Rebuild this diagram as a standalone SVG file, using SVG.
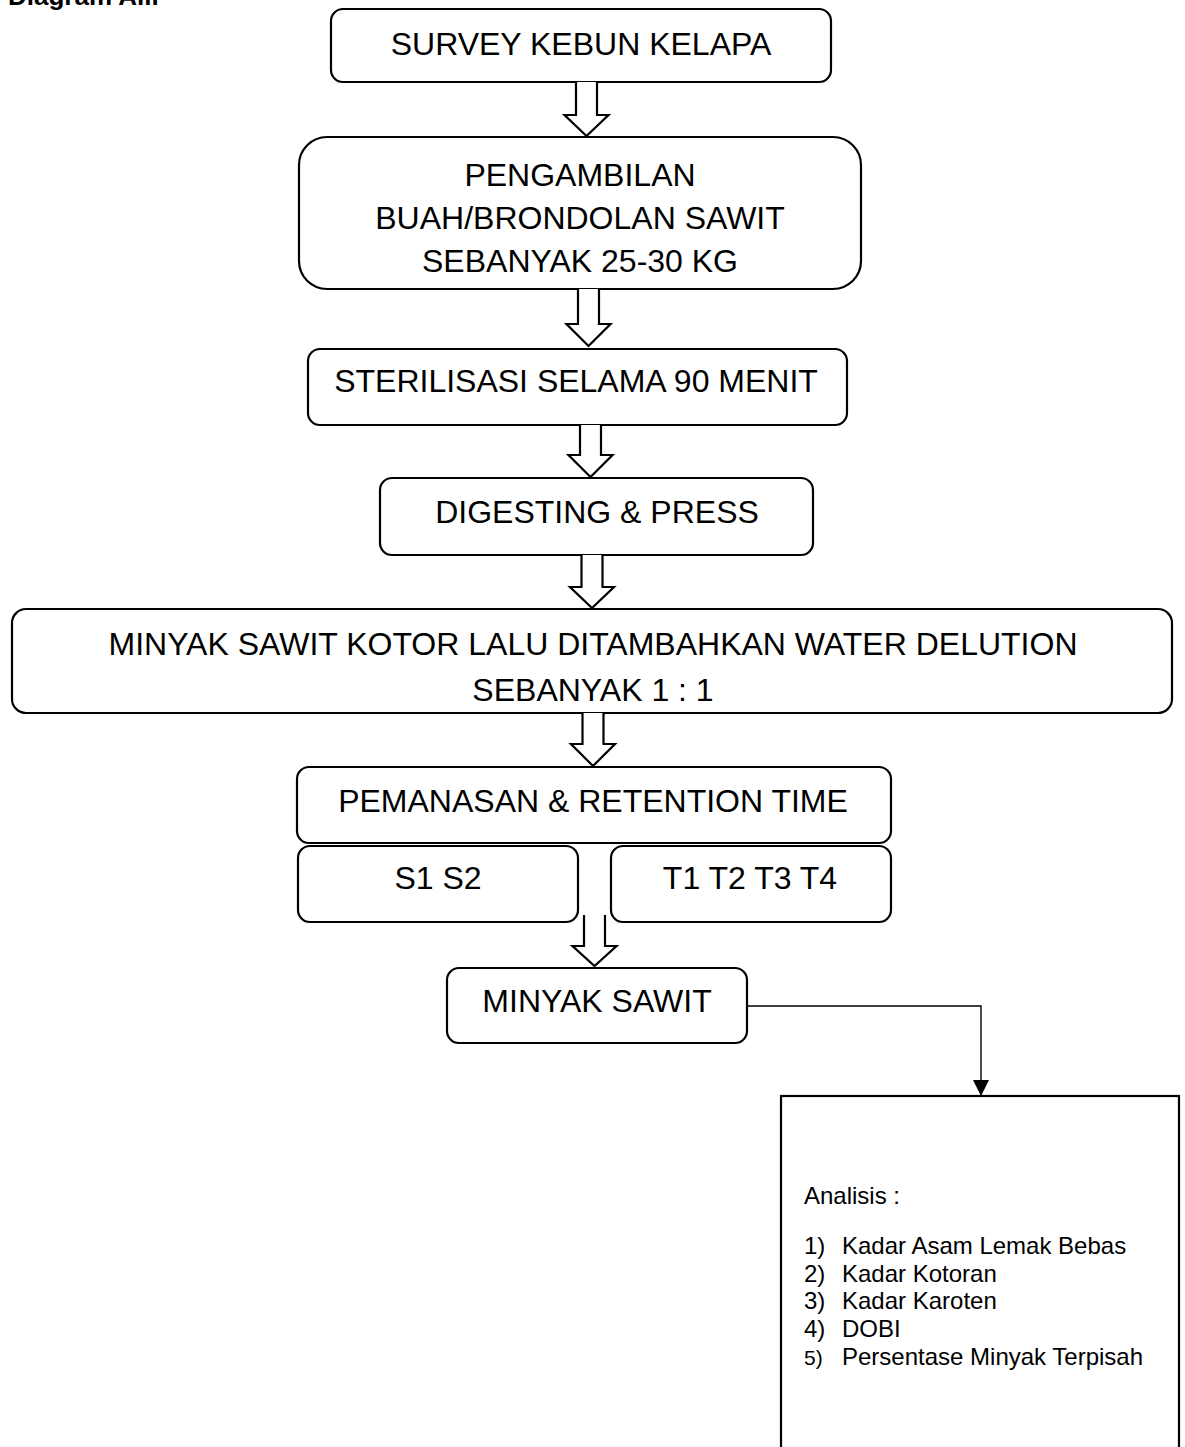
<svg xmlns="http://www.w3.org/2000/svg" width="1185" height="1447" viewBox="0 0 1185 1447">
<style>
.box{fill:#fff;stroke:#000;stroke-width:2.2}
.t{font-family:"Liberation Sans",Arial,sans-serif;font-size:32px;fill:#000;text-anchor:middle}
.s{font-family:"Liberation Sans",Arial,sans-serif;font-size:24px;fill:#000}
.blk{fill:#fff;stroke:#000;stroke-width:2.2;stroke-linejoin:miter}
.ln{fill:none;stroke:#000;stroke-width:1.4}
</style>
<defs>
<marker id="ah" markerWidth="16" markerHeight="16" viewBox="0 0 16 16" refX="16" refY="8" orient="auto" markerUnits="userSpaceOnUse">
<path d="M0,0 L16,8 L0,16 Z" fill="#000"/>
</marker>
</defs>
<rect width="1185" height="1447" fill="#fff"/>
<text x="8" y="5" style="font-family:'Liberation Sans',Arial,sans-serif;font-size:26px;font-weight:bold">Diagram Alir</text>

<g id="n1"><rect class="box" x="331" y="9" width="500" height="73" rx="12"/><text class="t" x="581" y="55">SURVEY KEBUN KELAPA</text></g>
<g id="n2"><rect class="box" x="299" y="137" width="562" height="152" rx="28"/>
<text class="t" x="580" y="186">PENGAMBILAN</text>
<text class="t" x="580" y="229">BUAH/BRONDOLAN SAWIT</text>
<text class="t" x="580" y="272">SEBANYAK 25-30 KG</text></g>
<g id="n3"><rect class="box" x="308" y="349" width="539" height="76" rx="12"/><text class="t" x="576" y="392">STERILISASI SELAMA 90 MENIT</text></g>
<g id="n4"><rect class="box" x="380" y="478" width="433" height="77" rx="12"/><text class="t" x="597" y="523">DIGESTING &amp; PRESS</text></g>
<g id="n5"><rect class="box" x="12" y="609" width="1160" height="104" rx="14"/>
<text class="t" x="593" y="655">MINYAK SAWIT KOTOR LALU DITAMBAHKAN WATER DELUTION</text>
<text class="t" x="593" y="701">SEBANYAK 1 : 1</text></g>
<g id="n6"><rect class="box" x="297" y="767" width="594" height="76" rx="12"/><text class="t" x="593" y="812">PEMANASAN &amp; RETENTION TIME</text></g>
<g id="n6a"><rect class="box" x="298" y="846" width="280" height="76" rx="12"/><text class="t" x="438" y="889">S1 S2</text></g>
<g id="n6b"><rect class="box" x="611" y="846" width="280" height="76" rx="12"/><text class="t" x="750" y="889">T1 T2 T3 T4</text></g>
<g id="n7"><rect class="box" x="447" y="968" width="300" height="75" rx="12"/><text class="t" x="597" y="1012">MINYAK SAWIT</text></g>
<g id="n8"><rect class="box" x="781" y="1096" width="398" height="380"/>
<text class="s" x="804" y="1204">Analisis :</text>
<text class="s" x="804" y="1254">1)</text><text class="s" x="842" y="1254">Kadar Asam Lemak Bebas</text>
<text class="s" x="804" y="1282">2)</text><text class="s" x="842" y="1282">Kadar Kotoran</text>
<text class="s" x="804" y="1309">3)</text><text class="s" x="842" y="1309">Kadar Karoten</text>
<text class="s" x="804" y="1337">4)</text><text class="s" x="842" y="1337">DOBI</text>
<text class="s" x="804" y="1365" style="font-size:21px">5)</text><text class="s" x="842" y="1365">Persentase Minyak Terpisah</text></g>

<g id="connectors">
<path class="blk" d="M576,82 V115 H564.5 L586.5,136 L608.5,115 H597 V82"/>
<path class="blk" d="M578,289 V324 H566.5 L588.5,346 L610.5,324 H599 V289"/>
<path class="blk" d="M580,425 V455 H568.5 L590.5,477 L612.5,455 H601 V425"/>
<path class="blk" d="M581.5,555 V587 H570 L592,608 L614,587 H602.5 V555"/>
<path class="blk" d="M582.5,713 V744 H571 L593,766 L615,744 H603.5 V713"/>
<path class="blk" d="M584,915 V946 H572.5 L594.5,966 L616.5,946 H605 V915"/>
<path class="ln" d="M747,1006 H981 V1096" marker-end="url(#ah)"/>
</g>
</svg>
